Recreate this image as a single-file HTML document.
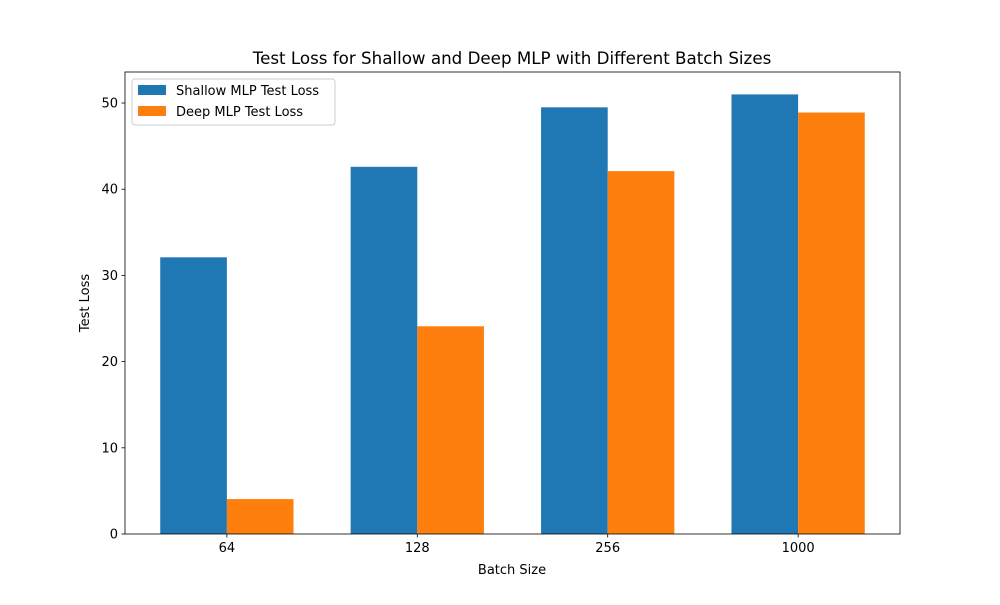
<!DOCTYPE html>
<html><head><meta charset="utf-8"><style>
body{margin:0;background:#fff;}
svg text{font-family:"DejaVu Sans","Liberation Sans",sans-serif;fill:#000;}
</style></head><body>
<svg id="chart" width="1000" height="600" xmlns="http://www.w3.org/2000/svg"></svg>
<script>
const categories = ["64","128","256","1000"];
const shallowValues = [32.1, 42.6, 49.5, 51.0];
const deepValues = [4.05, 24.1, 42.1, 48.9];
const yTicks = [0,10,20,30,40,50];
const seriesNames = ["Shallow MLP Test Loss","Deep MLP Test Loss"];

const svg = document.getElementById('chart');
const NS = 'http://www.w3.org/2000/svg';
const L=125,R=900,T=72,B=534;
const xmin=-0.535,xmax=3.535,ymin=0,ymax=53.6;
const xs=v=>L+(v-xmin)/(xmax-xmin)*(R-L);
const ys=v=>B-(v-ymin)/(ymax-ymin)*(B-T);
function mk(tag,attrs,parent){const e=document.createElementNS(NS,tag);for(const k in attrs)e.setAttribute(k,attrs[k]);(parent||svg).appendChild(e);return e;}
const w=0.35;
const colors=['#1f77b4','#ff7f0e'];
[shallowValues,deepValues].forEach((vals,s)=>{
  vals.forEach((v,i)=>{
    const x0=xs(i+(s===0?-w:0)), x1=xs(i+(s===0?0:w));
    const r=mk('rect',{x:x0,y:ys(v),width:x1-x0,height:ys(0)-ys(v),fill:colors[s]});
    
    
  });
});
const frame=mk('rect',{x:L,y:T,width:R-L,height:B-T,fill:'none',stroke:'#000','stroke-width':0.8});


categories.forEach((c,i)=>{
  const x=xs(i);
  mk('line',{x1:x,x2:x,y1:B,y2:B+3.5,stroke:'#000','stroke-width':0.8});
  const t=mk('text',{x:x,y:B+18,'text-anchor':'middle','font-size':13});
  t.textContent=c;
  
  
});
yTicks.forEach(v=>{
  const y=ys(v);
  mk('line',{x1:L-3.5,x2:L,y1:y,y2:y,stroke:'#000','stroke-width':0.8});
  const t=mk('text',{x:L-7,y:y+4.5,'text-anchor':'end','font-size':13});
  t.textContent=v;
  
  
});
</script>
<svg style="position:absolute;left:0;top:0" width="1000" height="600" xmlns="http://www.w3.org/2000/svg">
<text x="512" y="64" text-anchor="middle" font-size="16.7">Test Loss for Shallow and Deep MLP with Different Batch Sizes</text>
<text x="512" y="574" text-anchor="middle" font-size="13">Batch Size</text>
<text transform="translate(89,303) rotate(-90)" text-anchor="middle" font-size="13">Test Loss</text>
<g>
<rect x="132" y="79" width="203" height="46" rx="3" fill="#fff" fill-opacity="0.8" stroke="#ccc"/>
<rect x="138" y="85" width="28" height="10" fill="#1f77b4"/>
<text x="176" y="95" font-size="13">Shallow MLP Test Loss</text>
<rect x="138" y="106" width="28" height="10" fill="#ff7f0e"/>
<text x="176" y="116" font-size="13">Deep MLP Test Loss</text>
</g>
</svg>
</body></html>
